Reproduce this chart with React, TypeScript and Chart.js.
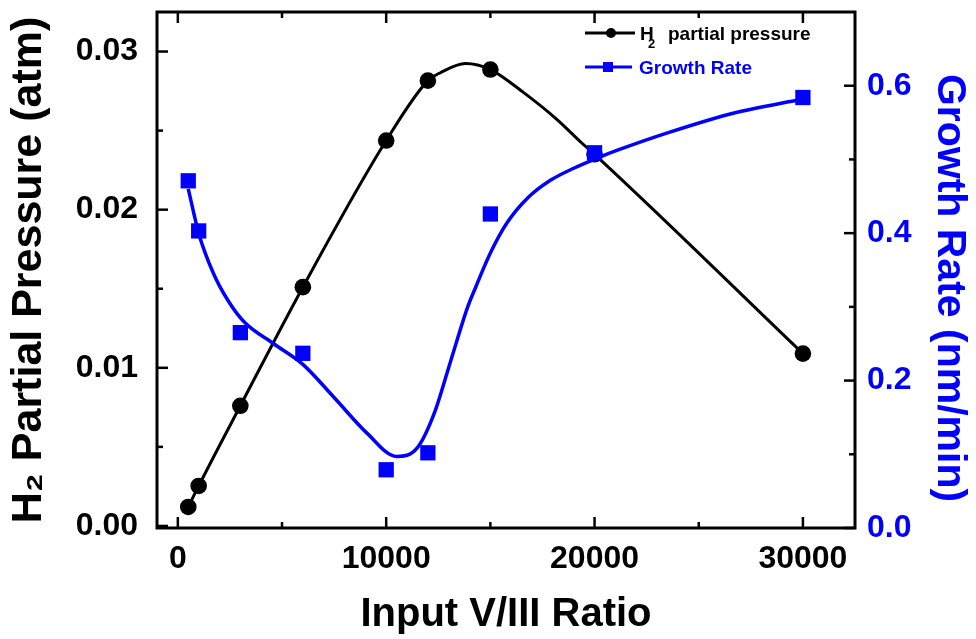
import React, { useEffect, useRef } from "react";
import { Chart, registerables } from "chart.js";

Chart.register(...registerables);

// measured data
const ratioX = [500, 1000, 3000, 6000, 10000, 12000, 15000, 20000, 30000];
const h2Pressure = [0.0012, 0.00253, 0.0076, 0.0151, 0.02437, 0.02816, 0.02886, 0.0235, 0.0109];
const growthRate = [0.471, 0.403, 0.265, 0.237, 0.079, 0.102, 0.426, 0.509, 0.584];

// smooth curve drawn through H2 points
const h2CurveX = [500, 1000, 3000, 6000, 10000, 12000, 12600, 13800, 15000, 16600, 18200, 19400, 20000, 30000];
const h2CurveY = [0.0012, 0.00253, 0.0076, 0.0151, 0.02437, 0.02816, 0.02866, 0.02924, 0.02886, 0.0274, 0.0257, 0.0242, 0.0235, 0.0109];

// fitted growth-rate curve
const growthFitX = [500, 1000, 1700, 2400, 3200, 4600, 6000, 7500, 9100, 10500, 11500, 12300, 13100, 13900, 14300, 15000, 15800, 16800, 17900, 19000, 20100, 21200, 23500, 26700, 30000];
const growthFitY = [0.46, 0.40, 0.346, 0.309, 0.279, 0.25, 0.222, 0.177, 0.128, 0.097, 0.109, 0.155, 0.227, 0.299, 0.327, 0.373, 0.414, 0.448, 0.472, 0.488, 0.5015, 0.5135, 0.536, 0.563, 0.582];

const xTicks = [0, 10000, 20000, 30000];
const xMinorTicks = [5000, 15000, 25000];
const leftTicks = [0, 0.01, 0.02, 0.03];
const leftMinorTicks = [0.005, 0.015, 0.025];
const rightTicks = [0, 0.2, 0.4, 0.6];
const rightMinorTicks = [0.1, 0.3, 0.5];

const rightTitle = "Growth Rate (nm/min)";

const FONT = "'Liberation Sans', Arial, Helvetica, sans-serif";
const BLUE = "#0000ff";

const framePlugin = {
  id: "frameTicksLegend",
  afterDraw(chart: any) {
    const { ctx, chartArea: a, scales } = chart;
    ctx.save();
    ctx.strokeStyle = "#000";
    ctx.lineWidth = 3;
    ctx.strokeRect(a.left, a.top, a.right - a.left, a.bottom - a.top);
    ctx.lineWidth = 2.5;
    const seg = (x1: number, y1: number, x2: number, y2: number) => {
      ctx.beginPath();
      ctx.moveTo(x1, y1);
      ctx.lineTo(x2, y2);
      ctx.stroke();
    };
    const MAJ = 11, MIN = 6;
    xTicks.forEach((v) => {
      const p = scales.x.getPixelForValue(v);
      seg(p, a.bottom, p, a.bottom - MAJ);
      seg(p, a.top, p, a.top + MAJ);
    });
    xMinorTicks.forEach((v) => {
      const p = scales.x.getPixelForValue(v);
      seg(p, a.bottom, p, a.bottom - MIN);
      seg(p, a.top, p, a.top + MIN);
    });
    leftTicks.forEach((v) => {
      const p = scales.y.getPixelForValue(v);
      seg(a.left, p, a.left + MAJ, p);
    });
    leftMinorTicks.forEach((v) => {
      const p = scales.y.getPixelForValue(v);
      seg(a.left, p, a.left + MIN, p);
    });
    rightTicks.forEach((v) => {
      const p = scales.y1.getPixelForValue(v);
      seg(a.right, p, a.right - MAJ, p);
    });
    rightMinorTicks.forEach((v) => {
      const p = scales.y1.getPixelForValue(v);
      seg(a.right, p, a.right - MIN, p);
    });

    // right axis title
    ctx.save();
    ctx.translate(949, 288);
    ctx.rotate(Math.PI / 2);
    ctx.fillStyle = BLUE;
    ctx.font = `bold 41px ${FONT}`;
    ctx.textAlign = "center";
    ctx.textBaseline = "middle";
    ctx.fillText(rightTitle, 0, 0);
    ctx.restore();

    // legend
    ctx.lineWidth = 3;
    ctx.strokeStyle = "#000";
    seg(585, 33, 635, 33);
    ctx.fillStyle = "#000";
    ctx.beginPath();
    ctx.arc(611, 33, 5, 0, Math.PI * 2);
    ctx.fill();
    ctx.textBaseline = "alphabetic";
    ctx.textAlign = "left";
    ctx.font = `bold 19px ${FONT}`;
    ctx.fillText("H", 640, 39.5);
    ctx.font = `bold 13px ${FONT}`;
    ctx.fillText("2", 648, 48);
    ctx.font = `bold 19px ${FONT}`;
    ctx.fillText("partial pressure", 668, 39.5);

    ctx.strokeStyle = BLUE;
    ctx.fillStyle = BLUE;
    seg(585, 67, 632, 67);
    ctx.fillRect(603, 62, 10, 10);
    ctx.fillText("Growth Rate", 639, 74);
    ctx.restore();
  },
};

export default function App() {
  const ref = useRef<HTMLCanvasElement | null>(null);
  useEffect(() => {
    document.body.style.margin = "0";
    const canvas = ref.current!;
    const pts = (xs: number[], ys: number[]) => xs.map((x, i) => ({ x, y: ys[i] }));
    const chart = new Chart(canvas, {
      type: "scatter",
      data: {
        datasets: [
          {
            label: "Growth Rate",
            data: pts(ratioX, growthRate),
            yAxisID: "y1",
            showLine: false,
            pointStyle: "rect",
            pointRadius: 10.8,
            pointBackgroundColor: BLUE,
            pointBorderColor: BLUE,
            pointBorderWidth: 0,
          },
          {
            label: "Growth fit",
            data: pts(growthFitX, growthFitY),
            yAxisID: "y1",
            showLine: true,
            pointRadius: 0,
            borderColor: BLUE,
            borderWidth: 3.5,
            cubicInterpolationMode: "monotone",
          },
          {
            label: "H2 partial pressure",
            data: pts(ratioX, h2Pressure),
            yAxisID: "y",
            showLine: false,
            pointStyle: "circle",
            pointRadius: 8.3,
            pointBackgroundColor: "#000",
            pointBorderColor: "#000",
            pointBorderWidth: 0,
          },
          {
            label: "H2 curve",
            data: pts(h2CurveX, h2CurveY),
            yAxisID: "y",
            showLine: true,
            pointRadius: 0,
            borderColor: "#000",
            borderWidth: 3,
            cubicInterpolationMode: "monotone",
          },
        ],
      },
      options: {
        responsive: false,
        animation: false,
        devicePixelRatio: 1,
        layout: { padding: { top: 12, left: 0, right: 0, bottom: 0 } },
        plugins: { legend: { display: false }, tooltip: { enabled: false } },
        scales: {
          x: {
            type: "linear",
            position: "bottom",
            min: -1000,
            max: 32500,
            afterBuildTicks: (s: any) => {
              s.ticks = xTicks.map((value) => ({ value }));
            },
            afterFit: (s: any) => {
              s.height = 111;
              s.paddingLeft = 0;
              s.paddingRight = 0;
            },
            grid: { display: false, drawTicks: false },
            border: { display: false },
            ticks: {
              autoSkip: false,
              maxRotation: 0,
              padding: 12,
              color: "#000",
              font: { family: FONT, size: 32, weight: "bold" },
              callback: (v: any) => String(v),
            },
            title: {
              display: true,
              text: "Input V/III Ratio",
              color: "#000",
              font: { family: FONT, size: 40, weight: "bold" },
              padding: { top: 0, bottom: 0 },
            },
          },
          y: {
            type: "linear",
            position: "left",
            min: -0.00013,
            max: 0.0325,
            afterBuildTicks: (s: any) => {
              s.ticks = leftTicks.map((value) => ({ value }));
            },
            afterFit: (s: any) => {
              s.width = 157;
              s.paddingTop = 0;
              s.paddingBottom = 0;
            },
            grid: { display: false, drawTicks: false },
            border: { display: false },
            ticks: {
              padding: 19,
              color: "#000",
              font: { family: FONT, size: 32, weight: "bold" },
              callback: (v: any) => Number(v).toFixed(2),
            },
            title: {
              display: true,
              text: "H\u2082 Partial Pressure (atm)",
              color: "#000",
              font: { family: FONT, size: 43, weight: "bold" },
              padding: { top: 3, bottom: 0 },
            },
          },
          y1: {
            type: "linear",
            position: "right",
            min: 0,
            max: 0.7,
            afterBuildTicks: (s: any) => {
              s.ticks = rightTicks.map((value) => ({ value }));
            },
            afterFit: (s: any) => {
              s.width = 121;
              s.paddingTop = 0;
              s.paddingBottom = 0;
            },
            grid: { display: false, drawTicks: false },
            border: { display: false },
            ticks: {
              padding: 12,
              color: BLUE,
              font: { family: FONT, size: 32, weight: "bold" },
              callback: (v: any) => Number(v).toFixed(1),
            },
            title: { display: false },
          },
        },
      },
      plugins: [framePlugin],
    } as any);
    return () => chart.destroy();
  }, []);
  return (
    <div style={{ width: 976, height: 639 }}>
      <canvas ref={ref} width={976} height={639} style={{ display: "block" }} />
    </div>
  );
}
